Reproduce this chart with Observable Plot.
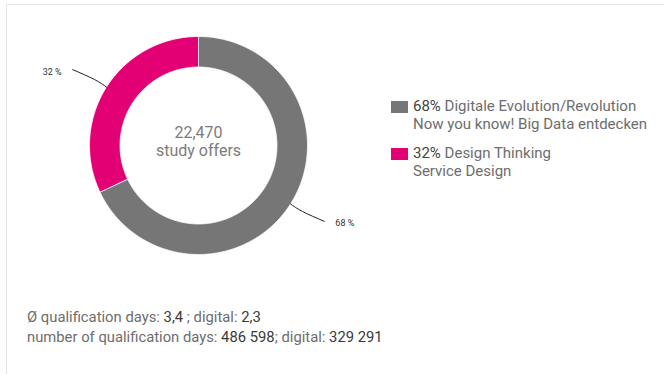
<!DOCTYPE html>
<html><head><meta charset="utf-8">
<script src="https://cdn.jsdelivr.net/npm/d3@7"></script>
<script src="https://cdn.jsdelivr.net/npm/@observablehq/plot@0.6"></script>
<style>
html,body{margin:0;padding:0;background:#fff;width:664px;height:374px;overflow:hidden;font-family:Roboto,"Noto Sans",sans-serif;}
#wrap{position:relative;width:664px;height:374px;}
#border{position:absolute;left:6px;top:4px;right:0;bottom:0;border-top:1px solid #e6e6e6;border-left:1px solid #e6e6e6;}
#chart{position:absolute;left:0;top:0;}
#legend{position:absolute;left:391px;top:97px;font-size:15px;line-height:18px;color:#6d6d6d;}
.item{position:relative;padding-left:22px;margin-bottom:11px;}
.sw{position:absolute;left:0;top:4px;width:17px;height:12px;}
.pct{color:#444;}
#stats{position:absolute;left:27px;top:307px;font-size:14.8px;line-height:20px;color:#6d6d6d;}
.v{color:#3a3a3a;}
</style></head>
<body><div id="wrap"><div id="border"></div><div id="chart"></div><div id="legend"></div><div id="stats"></div></div>
<script>
// ---- data ----
const categories = ["Digitale Evolution/Revolution", "Design Thinking"];
const subLabels = ["Now you know! Big Data entdecken", "Service Design"];
const shares = [68, 32];
const colors = ["#767676", "#e20074"];
const totalOffers = "22,470";
const centerLabel = "study offers";
const statLine1 = [["Ø qualification days: ", "3,4"], [" ; digital: ", "2,3"]];
const statLine2 = [["number of qualification days: ", "486 598"], ["; digital: ", "329 291"]];

// ---- layout ----
const W = 664, H = 374;
const cx = 198, cy = 145, R = 109, innerFrac = 0.72;

const pie = d3.pie().sort(null).value(d => d.share)(categories.map((c, i) => ({name: c, share: shares[i], color: colors[i]})));

// ring polygons computed from slice angles
function ring(a0, a1, name) {
  const n = Math.max(2, Math.ceil((a1 - a0) / 0.01));
  const pts = [];
  for (let k = 0; k <= n; k++) { const a = a0 + (a1 - a0) * k / n; pts.push({x: Math.sin(a), y: Math.cos(a), name}); }
  for (let k = n; k >= 0; k--) { const a = a0 + (a1 - a0) * k / n; pts.push({x: innerFrac * Math.sin(a), y: innerFrac * Math.cos(a), name}); }
  return pts;
}
const sliceMarks = pie.map(p => Plot.line(ring(p.startAngle, p.endAngle, p.data.name), {
  x: "x", y: "y", fill: p.data.color, stroke: "#fff", strokeWidth: 0.8, curve: "linear-closed"
}));

// leader lines + labels
const leaders = pie.map((p, i) => {
  const m = (p.startAngle + p.endAngle) / 2;
  const s = Math.sin(m), c = Math.cos(m);
  const side = s < 0 ? -1 : 1;
  const end = {x: s * 1.0 + side * 0.31, y: c * 1.0 + (c > 0 ? 0.16 : -0.16)};
  return {pts: [{x: s, y: c}, {x: s * 1.13, y: c * 1.13}, end], label: shares[i] + " %", side, end};
});
const leaderMarks = leaders.map(l => Plot.line(l.pts, {x: "x", y: "y", stroke: "#222", strokeWidth: 1, curve: "natural"}));
const labelMarks = leaders.map(l => Plot.text([l.end], {
  x: "x", y: "y", text: () => l.label, textAnchor: l.side < 0 ? "end" : "start",
  dx: l.side < 0 ? -11 : 11, dy: 2, fontSize: 9, fill: "#333"
}));

const chart = Plot.plot({
  width: W, height: H, margin: 0,
  style: {fontFamily: "Roboto, 'Noto Sans', sans-serif", background: "transparent"},
  x: {domain: [-1, 1], range: [cx - R, cx + R], axis: null},
  y: {domain: [-1, 1], range: [cy + R, cy - R], axis: null},
  marks: [
    ...sliceMarks,
    ...leaderMarks,
    ...labelMarks,
    Plot.text([totalOffers], {x: 0, y: 0, text: d => d, dy: -13, fontSize: 16, fill: "#7c7c7c"}),
    Plot.text([centerLabel], {x: 0, y: 0, text: d => d, dy: 5, fontSize: 16, fill: "#7c7c7c"})
  ]
});
document.getElementById("chart").appendChild(chart);

// legend (HTML, built from data)
const legend = document.getElementById("legend");
categories.forEach((c, i) => {
  const it = document.createElement("div"); it.className = "item";
  it.innerHTML = `<span class="sw" style="background:${colors[i]}"></span><span class="pct">${shares[i]}%</span> ${c}<br>${subLabels[i]}`;
  legend.appendChild(it);
});
const stats = document.getElementById("stats");
[statLine1, statLine2].forEach(line => {
  const d = document.createElement("div");
  d.innerHTML = line.map(([l, v]) => `${l}<span class="v">${v}</span>`).join("");
  stats.appendChild(d);
});
</script></body></html>
